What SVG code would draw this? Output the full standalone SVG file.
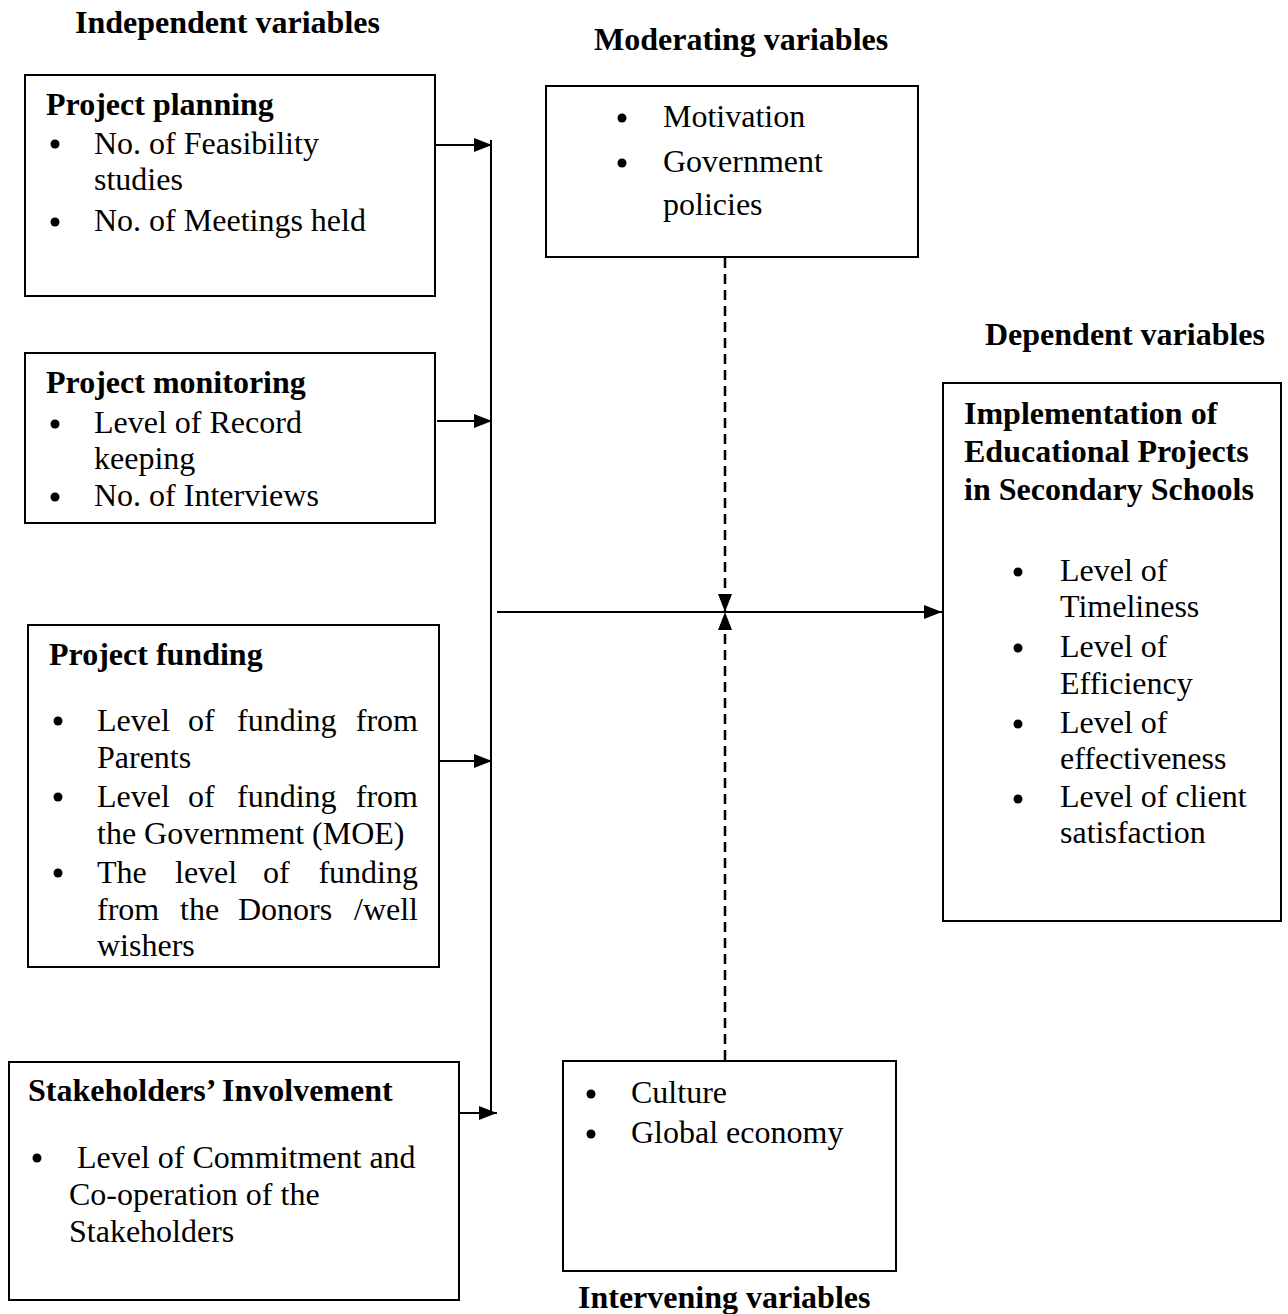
<svg xmlns="http://www.w3.org/2000/svg" width="1288" height="1314" viewBox="0 0 1288 1314">
<style>
text{font-family:"Liberation Serif","Times New Roman",serif;font-size:32px;fill:#000}
.b{font-weight:bold}
.box{fill:#fff;stroke:#000;stroke-width:2}
.ln{stroke:#000;stroke-width:2;fill:none}
.dash{stroke:#000;stroke-width:2.5;fill:none;stroke-dasharray:10 6}
.dot{fill:#000}
.e{text-anchor:end}
</style>
<defs>
<marker id="ah" viewBox="0 0 18 14" refX="18" refY="7" markerWidth="18" markerHeight="14" markerUnits="userSpaceOnUse" orient="auto">
<path d="M0,0 L18,7 L0,14 Z" fill="#000"/>
</marker>
</defs>
<rect width="1288" height="1314" fill="#fff"/>

<g id="labels">
<text class="b" x="75" y="33">Independent variables</text>
<text class="b" x="594" y="50">Moderating variables</text>
<text class="b" x="985" y="345">Dependent variables</text>
<text class="b" x="578" y="1308">Intervening variables</text>
</g>

<g id="connectors">
<line class="ln" x1="491" y1="140" x2="491" y2="1113"/>
<line class="ln" x1="435" y1="145" x2="492" y2="145" marker-end="url(#ah)"/>
<line class="ln" x1="437" y1="421" x2="492" y2="421" marker-end="url(#ah)"/>
<line class="ln" x1="440" y1="761" x2="492" y2="761" marker-end="url(#ah)"/>
<line class="ln" x1="459" y1="1113" x2="497" y2="1113" marker-end="url(#ah)"/>
<line class="ln" x1="497" y1="612" x2="942" y2="612" marker-end="url(#ah)"/>
<line class="dash" x1="725" y1="258" x2="725" y2="612" marker-end="url(#ah)"/>
<line class="dash" x1="725" y1="1060" x2="725" y2="612" marker-end="url(#ah)"/>
</g>

<g id="project-planning">
<rect class="box" x="25" y="75" width="410" height="221"/>
<text class="b" x="46" y="115">Project planning</text>
<circle class="dot" cx="55" cy="144" r="4.5"/>
<text x="94" y="154">No. of Feasibility</text>
<text x="94" y="190">studies</text>
<circle class="dot" cx="55" cy="222" r="4.5"/>
<text x="94" y="231">No. of Meetings held</text>
</g>

<g id="project-monitoring">
<rect class="box" x="25" y="353" width="410" height="170"/>
<text class="b" x="46" y="393">Project monitoring</text>
<circle class="dot" cx="55" cy="424" r="4.5"/>
<text x="94" y="433">Level of Record</text>
<text x="94" y="469">keeping</text>
<circle class="dot" cx="55" cy="497" r="4.5"/>
<text x="94" y="506">No. of Interviews</text>
</g>

<g id="project-funding">
<rect class="box" x="28" y="625" width="411" height="342"/>
<text class="b" x="49" y="665">Project funding</text>
<circle class="dot" cx="58" cy="721" r="4.5"/>
<text y="731"><tspan x="97">Level</tspan><tspan x="188">of</tspan><tspan x="237">funding</tspan><tspan x="418" class="e">from</tspan></text>
<text x="97" y="768">Parents</text>
<circle class="dot" cx="58" cy="797" r="4.5"/>
<text y="807"><tspan x="97">Level</tspan><tspan x="188">of</tspan><tspan x="237">funding</tspan><tspan x="418" class="e">from</tspan></text>
<text x="97" y="844">the Government (MOE)</text>
<circle class="dot" cx="58" cy="873" r="4.5"/>
<text y="883"><tspan x="97">The</tspan><tspan x="175">level</tspan><tspan x="263">of</tspan><tspan x="418" class="e">funding</tspan></text>
<text y="920"><tspan x="97">from</tspan><tspan x="180">the</tspan><tspan x="238">Donors</tspan><tspan x="418" class="e">/well</tspan></text>
<text x="97" y="956">wishers</text>
</g>

<g id="stakeholders-involvement">
<rect class="box" x="9" y="1062" width="450" height="238"/>
<text class="b" x="28" y="1101">Stakeholders’ Involvement</text>
<circle class="dot" cx="37" cy="1158" r="4.5"/>
<text x="77" y="1168">Level of Commitment and</text>
<text x="69" y="1205">Co-operation of the</text>
<text x="69" y="1242">Stakeholders</text>
</g>

<g id="moderating-variables">
<rect class="box" x="546" y="86" width="372" height="171"/>
<circle class="dot" cx="622" cy="118" r="4.5"/>
<text x="663" y="127">Motivation</text>
<circle class="dot" cx="622" cy="163" r="4.5"/>
<text x="663" y="172">Government</text>
<text x="663" y="215">policies</text>
</g>

<g id="intervening-variables">
<rect class="box" x="563" y="1061" width="333" height="210"/>
<circle class="dot" cx="591" cy="1094" r="4.5"/>
<text x="631" y="1103">Culture</text>
<circle class="dot" cx="591" cy="1134" r="4.5"/>
<text x="631" y="1143">Global economy</text>
</g>

<g id="dependent-variables">
<rect class="box" x="943" y="383" width="338" height="538"/>
<text class="b" x="964" y="424">Implementation of</text>
<text class="b" x="964" y="462">Educational Projects</text>
<text class="b" x="964" y="500">in Secondary Schools</text>
<circle class="dot" cx="1018" cy="572" r="4.5"/>
<text x="1060" y="581">Level of</text>
<text x="1060" y="617">Timeliness</text>
<circle class="dot" cx="1018" cy="648" r="4.5"/>
<text x="1060" y="657">Level of</text>
<text x="1060" y="694">Efficiency</text>
<circle class="dot" cx="1018" cy="724" r="4.5"/>
<text x="1060" y="733">Level of</text>
<text x="1060" y="769">effectiveness</text>
<circle class="dot" cx="1018" cy="799" r="4.5"/>
<text x="1060" y="807">Level of client</text>
<text x="1060" y="843">satisfaction</text>
</g>
</svg>
